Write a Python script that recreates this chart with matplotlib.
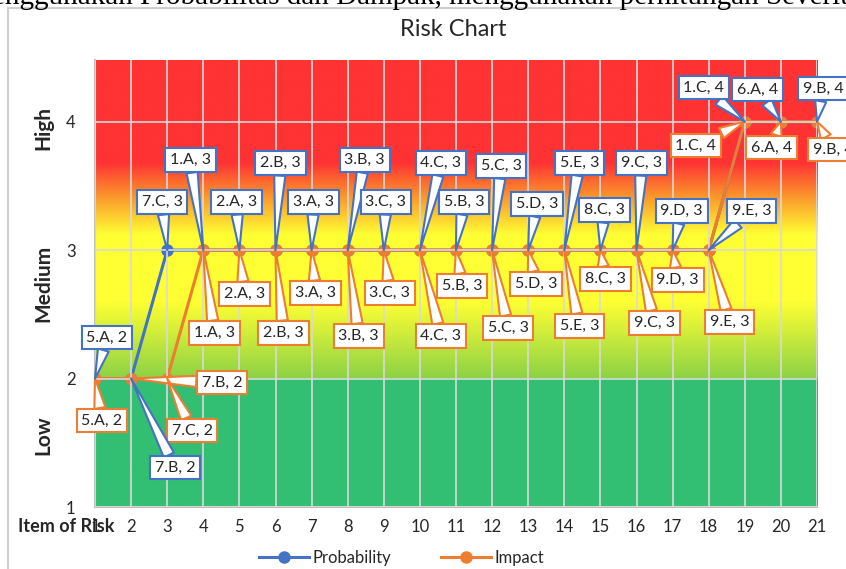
import numpy as np
import matplotlib
matplotlib.use('Agg')
import matplotlib.pyplot as plt
from matplotlib.patches import Rectangle

plt.rcParams['font.family'] = ['Lato', 'DejaVu Sans']

# risk items 1..21
items = list(range(1, 22))
prob = [2, 2, 3, 3, 3, 3, 3, 3, 3, 3, 3, 3, 3, 3, 3, 3, 3, 3, 4, 4, 4]
impact = [2, 2, 2, 3, 3, 3, 3, 3, 3, 3, 3, 3, 3, 3, 3, 3, 3, 3, 4, 4, 4]
prob_codes = ['5.A', '7.B', '7.C', '1.A', '2.A', '2.B', '3.A', '3.B', '3.C', '4.C',
              '5.B', '5.C', '5.D', '5.E', '8.C', '9.C', '9.D', '9.E', '1.C', '6.A', '9.B']
impact_codes = ['5.A', '7.B', '7.C', '1.A', '2.A', '2.B', '3.A', '3.B', '3.C', '4.C',
                '5.B', '5.C', '5.D', '5.E', '8.C', '9.C', '9.D', '9.E', '1.C', '6.A', '9.B']

# callout offsets in pixels (dx, dy)
prob_off = [(12, 41), (44, -89), (-5, 48), (-13, 90), (-3, 48), (5, 87), (2, 48),
            (17, 90), (2, 48), (21, 87), (8, 48), (9, 84), (9, 46), (15, 87),
            (4, 40), (5, 87), (9, 39), (43, 39), (-41, 34), (-23, 32), (6, 33)]
impact_off = [(7, -42), (91, -4), (25, -52), (11, -83), (5, -44), (8, -83), (4, -43),
              (11, -86), (6, -43), (21, -86), (6, -36), (16, -78), (8, -34), (15, -76),
              (5, -29), (18, -73), (5, -30), (21, -72), (-49, -24), (-9, -26), (16, -28)]

BLUE = '#4472C4'
ORANGE = '#ED7D31'
TXT = '#262626'
YMAX = 4.48

fig = plt.figure(figsize=(8.46, 5.69), dpi=100)

# text of the surrounding page and the chart frame
fig.text(-0.01, 1 - 4 / 569, 'enggunakan Probabilitas dan Dampak, menggunakan perhitungan Severity',
         family='Liberation Serif', fontsize=21, va='baseline', ha='left')
fig.patches.append(Rectangle((8 / 846, -0.1), 1.2, 1.1 - 8 / 569, transform=fig.transFigure,
                             fill=False, ec='#d0d0d0', lw=1.5))

ax = fig.add_axes([95 / 846, 62 / 569, 722 / 846, 447 / 569])

# background bands: green / yellow / red with soft transitions
yy = np.linspace(1, YMAX, 800)
stops_y = [1.0, 1.999, 2.001, 2.6, 3.12, 3.42, 3.68, YMAX]
stops_c = np.array([(51, 191, 115), (51, 191, 115), (140, 210, 70), (255, 255, 51),
                    (255, 255, 51), (251, 150, 45), (255, 51, 51), (255, 51, 51)]) / 255
bg = np.stack([np.interp(yy, stops_y, stops_c[:, k]) for k in range(3)], axis=-1)
ax.imshow(bg[:, None, :], extent=[1, 21, 1, YMAX], origin='lower', aspect='auto', zorder=0)

ax.set_xlim(1, 21)
ax.set_ylim(1, YMAX)
ax.set_xticks(items)
ax.set_yticks([1, 2, 3, 4])
ax.grid(True, color='#d9d9d9', lw=1.2, zorder=0.5)
ax.set_axisbelow(False)
for s in ['top', 'right']:
    ax.spines[s].set_visible(False)
for s in ['left', 'bottom']:
    ax.spines[s].set_color('#bfbfbf')
    ax.spines[s].set_linewidth(1.5)
ax.tick_params(length=0, labelsize=12, colors=TXT, pad=9)
ax.tick_params(axis='y', pad=14)

ax.plot(items, prob, color=BLUE, lw=2.2, marker='o', ms=8, label='Probability', zorder=2)
ax.plot(items, impact, color=ORANGE, lw=2.2, marker='o', ms=8, label='Impact', zorder=2.1)


def callouts(xs, ys, codes, offs, color, z):
    for x, y, c, (dx, dy) in zip(xs, ys, codes, offs):
        ax.annotate(f'{c}, {y}', xy=(x, y), xytext=(dx, dy), textcoords='offset pixels',
                    ha='center', va='center', fontsize=11.5, color=TXT, zorder=z,
                    annotation_clip=False,
                    bbox=dict(boxstyle='square,pad=0.3', fc='white', ec=color, lw=1.5),
                    arrowprops=dict(arrowstyle='wedge,tail_width=0.7,shrink_factor=0.5',
                                    fc='white', ec=color, lw=1.5, shrinkA=0, shrinkB=0))


callouts(items, impact, impact_codes, impact_off, ORANGE, 4)
callouts(items, prob, prob_codes, prob_off, BLUE, 5)

fig.text(453 / 846, 1 - 30 / 569, 'Risk Chart', ha='center', va='center', fontsize=17, color=TXT)
fig.text(18 / 846, 1 - 527 / 569, 'Item of Risk', ha='left', va='center', fontsize=13,
         fontweight='bold', color=TXT)
for lab, yv in [('High', 128), ('Medium', 283), ('Low', 435)]:
    fig.text(43 / 846, 1 - yv / 569, lab, rotation=90, ha='center', va='center',
             fontsize=15, fontweight='bold', color=TXT)

fig.legend(loc='center', bbox_to_anchor=(0.475, 11 / 569), ncol=2, frameon=False,
           fontsize=12, handlelength=3, columnspacing=3.0, handletextpad=0.2,
           labelcolor=TXT)

fig.savefig('out.png', dpi=100)
